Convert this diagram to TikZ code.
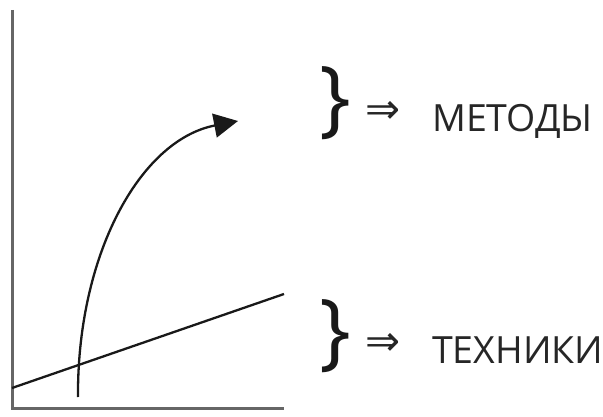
\documentclass[tikz,border=0pt]{standalone}
\usepackage{fontspec}
\usepackage{graphicx}
\setmainfont{Open Sans}
\newfontfamily\arrowfont{DejaVu Sans}
\usetikzlibrary{arrows.meta}
\tikzset{
  axis/.style={draw=black!60, line width=3pt},
  trend/.style={draw=black!90, line width=2.3pt},
  bracket/.style={font=\fontsize{84}{84}\selectfont, inner sep=0pt, text=black!90},
  label/.style={font=\fontsize{37.5}{37.5}\selectfont, inner sep=0pt, anchor=base west, text=black!85},
  thenmark/.style={font=\arrowfont\fontsize{27}{27}\selectfont, inner sep=0pt, text=black!85}
}
\newcommand{\thenarrow}{\scalebox{1.55}{⇒}}
\begin{document}
\begin{tikzpicture}[x=1pt,y=-1pt]
  \useasboundingbox (0,0) rectangle (603,417);
  % axes
  \coordinate (top) at (12,10);
  \coordinate (origin) at (12,408);
  \coordinate (right) at (284,408);
  \draw[axis] (top) -- (origin) -- (right);
  % straight line
  \coordinate (lineA) at (12,388);
  \coordinate (lineB) at (284,294);
  \draw[trend] (lineA) -- (lineB);
  % rising curve with arrow
  \coordinate (curveA) at (78,397);
  \coordinate (curveB) at (238,121);
  \draw[trend, -{Triangle[length=24pt,width=24pt]}]
    (curveA) .. controls (77,255) and (140,140) .. (curveB);
  % labels
  \node[bracket] (b1) at (335,103) {\}};
  \node[thenmark] (i1) at (383,112) {\thenarrow};
  \node[label] (t1) at (432,132) {МЕТОДЫ};
  \node[bracket] (b2) at (335,336) {\}};
  \node[thenmark] (i2) at (383,344) {\thenarrow};
  \node[label] (t2) at (432,363) {ТЕХНИКИ};
\end{tikzpicture}
\end{document}
